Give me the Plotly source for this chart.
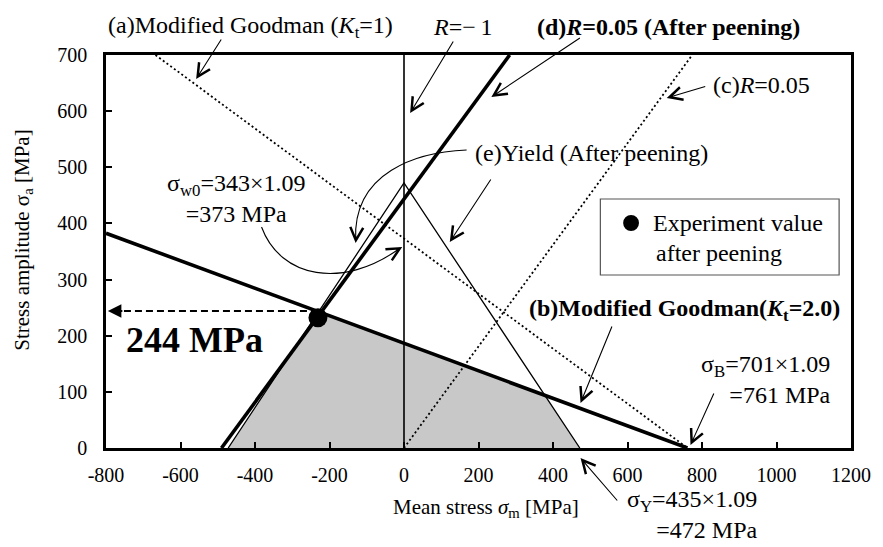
import numpy as np
import plotly.graph_objects as go

# ---- material data after peening [MPa] ----
sigma_w0 = 373          # 343 x 1.09
sigma_B = 761           # 701 x 1.09
sigma_Y = 472           # 435 x 1.09
Kt = 2.0
R = 0.05
peened_intercept = -490  # mean-stress intercept of the R=0.05 line after peening
exp_point_mean = [-231]
exp_point_amp = [232]
fatigue_limit = 244

x_ticks = [-800, -600, -400, -200, 0, 200, 400, 600, 800, 1000, 1200]
x_tick_text = ["-800", "-600", "-400", "-200", "0", "200", "400", "600", "800", "1000", "1200"]
y_ticks = [0, 100, 200, 300, 400, 500, 600, 700]
x_min, x_max = x_ticks[0], x_ticks[-1]
y_min, y_max = y_ticks[0], y_ticks[-1]

FONT = "Liberation Serif"
ANN_SIZE = 24

# ---- line definitions ----
k = (1 - R) / (1 + R)                       # sigma_a / sigma_m along an R line


def goodman(sm, fw):
    return fw * (1 - np.asarray(sm, dtype=float) / sigma_B)


a_x = [sigma_B * (1 - y_max / sigma_w0), sigma_B]
a_y = list(goodman(a_x, sigma_w0))
b_x = [x_min, sigma_B]
b_y = list(goodman(b_x, sigma_w0 / Kt))
c_x = [0, y_max / k]
c_y = [0, y_max]
d_x = [peened_intercept, peened_intercept + y_max / k]
d_y = [0, y_max]
yield_x = [-sigma_Y, 0, sigma_Y]
yield_y = [0, sigma_Y, 0]
rm1_x = [0, 0]
rm1_y = [0, y_max]

# safe region: below (d), the yield lines and (b)
fb = sigma_w0 / Kt
slope_b = -fb / sigma_B
m1 = (-k * peened_intercept - sigma_Y) / (1 - k)           # yield-left x (d)
p1 = (m1, sigma_Y + m1)
m2 = (fb + k * peened_intercept) / (k - slope_b)           # (d) x (b)
p2 = (m2, fb + slope_b * m2)
m3 = (sigma_Y - fb) / (1 + slope_b)                        # (b) x yield-right
p3 = (m3, sigma_Y - m3)
safe_x = [-sigma_Y, p1[0], p2[0], p3[0], sigma_Y, -sigma_Y]
safe_y = [0, p1[1], p2[1], p3[1], 0, 0]

fig = go.Figure()
fig.add_trace(go.Scatter(x=safe_x, y=safe_y, fill="toself", fillcolor="#c8c8c8",
                         line=dict(width=0), mode="lines", hoverinfo="skip"))
dot = dict(color="black", width=1.8, dash="2px,2.6px")
fig.add_trace(go.Scatter(x=a_x, y=a_y, mode="lines", line=dot))
fig.add_trace(go.Scatter(x=c_x, y=c_y, mode="lines", line=dot))
fig.add_trace(go.Scatter(x=yield_x, y=yield_y, mode="lines", line=dict(color="black", width=1.3)))
fig.add_trace(go.Scatter(x=rm1_x, y=rm1_y, mode="lines", line=dict(color="black", width=1.6)))
fig.add_trace(go.Scatter(x=b_x, y=b_y, mode="lines", line=dict(color="black", width=3.6)))
fig.add_trace(go.Scatter(x=d_x, y=d_y, mode="lines", line=dict(color="black", width=3.6)))
fig.add_trace(go.Scatter(x=[exp_point_mean[0], x_min + 45], y=[fatigue_limit, fatigue_limit],
                         mode="lines", line=dict(color="black", width=2.2, dash="7px,4px")))
fig.add_trace(go.Scatter(x=exp_point_mean, y=exp_point_amp, mode="markers",
                         marker=dict(color="black", size=19)))

# ---- page geometry (pixels) ----
W, H = 883, 547
L, Rt, T, B = 106, 858, 55, 448


def px(x, y):
    return (x - L) / (Rt - L), (B - y) / (B - T)


ann = []


def text(s, x, y, size=ANN_SIZE, xanchor="center", align="center", **kw):
    X, Y = px(x, y)
    ann.append(dict(text=s, x=X, y=Y, xref="paper", yref="paper", showarrow=False,
                    xanchor=xanchor, yanchor="middle", align=align,
                    font=dict(family=FONT, size=size, color="black"), **kw))


def arrow(tail, tip, head=5, size=2.3, width=1.1):
    X, Y = px(*tip)
    ann.append(dict(text="", x=X, y=Y, xref="paper", yref="paper", showarrow=True,
                    ax=tail[0] - tip[0], ay=tail[1] - tip[1], arrowhead=head,
                    arrowsize=size, arrowwidth=width, arrowcolor="black"))


# labels
text("(a)Modified Goodman (<i>K</i><sub>t</sub>=1)", 252, 27)
text("<i>R</i>=\u2212\u20091", 466, 27)
text("<b>(d)<i>R</i>=0.05 (After peening)</b>", 674, 27)
text("(c)<i>R</i>=0.05", 717, 85, xanchor="left")
text("(e)Yield (After peening)", 476, 153, xanchor="left")
text("\u03c3<sub>w0</sub>=343\u00d71.09<br>=373 MPa", 238, 198)
text("Experiment value", 656, 223, xanchor="left")
text("after peening", 659, 253, xanchor="left")
text("<b>(b)Modified Goodman(<i>K</i><sub>t</sub>=2.0)</b>", 690, 310)
text("\u03c3<sub>B</sub>=701\u00d71.09<br>=761 MPa", 840, 379, xanchor="right", align="right")
text("\u03c3<sub>Y</sub>=435\u00d71.09<br>=472 MPa", 765, 514, xanchor="right", align="right")
text(f"<b>{fatigue_limit} MPa</b>", 195, 340, size=36)
text("Mean stress <i>\u03c3</i><sub>m</sub> [MPa]", 490, 508, size=21)
text("Stress amplitude \u03c3<sub>a</sub> [MPa]", 22, 240, size=21, textangle=-90)

# straight call-out arrows
arrow((223, 38), (197, 79))
arrow((457, 40), (413, 113))
arrow((585, 37), (495, 97))
arrow((712, 86), (672, 98))
arrow((495, 178), (453, 242))
arrow((617, 325), (585, 403))
arrow((720, 392), (696, 445))
arrow((623, 502), (585, 458))
# heads of the curved call-outs
arrow((358.5, 236), (358, 243))
arrow((398, 251), (405, 247))
# head of the dashed fatigue-limit arrow
ann.append(dict(text="", x=x_min + 5, y=fatigue_limit, xref="x", yref="y", showarrow=True,
                ax=16, ay=0, arrowhead=2, arrowsize=1.35, arrowwidth=2, arrowcolor="black"))


def curve(pts):
    p = [px(*q) for q in pts]
    return "M{},{} C{},{} {},{} {},{}".format(*[v for q in p for v in q])


shapes = [
    dict(type="path", xref="paper", yref="paper",
         path=curve([(470, 150), (420, 152), (355, 172), (358, 240)]),
         line=dict(color="black", width=1.1)),
    dict(type="path", xref="paper", yref="paper",
         path=curve([(263, 227), (282, 278), (345, 290), (403, 248)]),
         line=dict(color="black", width=1.1)),
]
bx0, by0 = px(605, 275)
bx1, by1 = px(846, 199)
shapes.append(dict(type="rect", xref="paper", yref="paper", x0=bx0, y0=by0, x1=bx1, y1=by1,
                   line=dict(color="#555555", width=1.2), fillcolor="white", layer="above"))
cx0, cy0 = px(628, 231)
cx1, cy1 = px(644, 215)
shapes.append(dict(type="circle", xref="paper", yref="paper", x0=cx0, y0=cy0, x1=cx1, y1=cy1,
                   line=dict(color="black", width=0), fillcolor="black", layer="above"))

axis_common = dict(showline=True, mirror=True, linewidth=2.5, linecolor="black",
                   ticks="inside", ticklen=6, tickwidth=1.5, tickcolor="black",
                   showgrid=False, zeroline=False,
                   tickfont=dict(family=FONT, size=20, color="black"))
fig.update_xaxes(range=[x_min, x_max], tickvals=x_ticks, ticktext=x_tick_text,
                 ticklabelstandoff=7, **axis_common)
fig.update_yaxes(range=[y_min, y_max], tickvals=y_ticks, ticklabelstandoff=12, **axis_common)

fig.update_layout(width=W, height=H, autosize=False, showlegend=False,
                  margin=dict(l=L, r=W - Rt, t=T, b=H - B),
                  plot_bgcolor="white", paper_bgcolor="white",
                  font=dict(family=FONT, color="black"),
                  annotations=ann, shapes=shapes)

fig.write_html("out.html")
